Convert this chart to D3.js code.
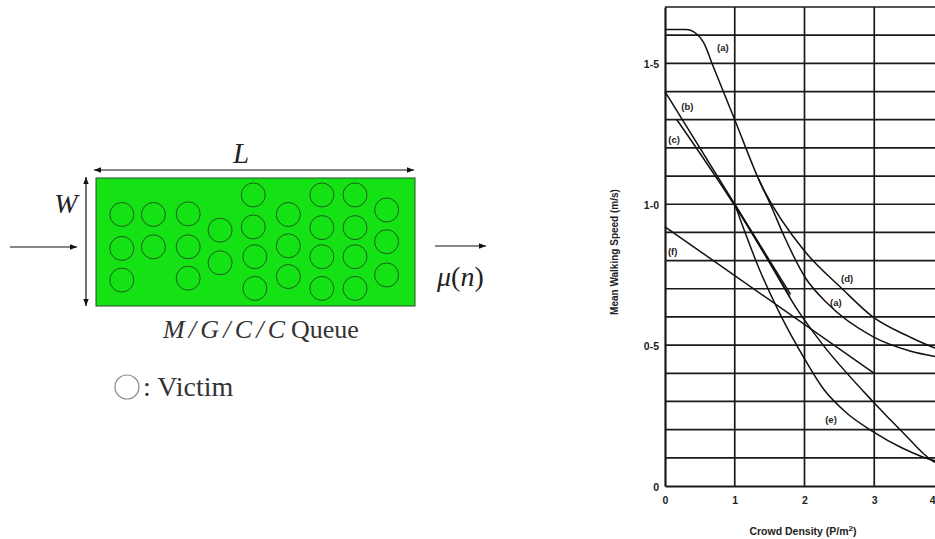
<!DOCTYPE html>
<html><head><meta charset="utf-8">
<script src="https://cdn.jsdelivr.net/npm/d3@7"></script>
<style>body{margin:0;background:#fff}svg{display:block}</style>
</head><body>
<svg id="c" width="935" height="539"></svg>
<script>
// ---------------- data ----------------
const densityTicks = [0, 1, 2, 3, 4];
const densityTickLabels = ["0", "1", "2", "3", "4"];
const speedTicks = [0, 0.5, 1.0, 1.5];
const speedTickLabels = ["0", "0-5", "1-0", "1-5"];
const speedGrid = [0.1,0.2,0.3,0.4,0.5,0.6,0.7,0.8,0.9,1.0,1.1,1.2,1.3,1.4,1.5,1.6,1.7];

const curveA = [[0,1.62],[0.3,1.62],[0.45,1.605],[0.55,1.575],[0.69,1.49],[1.0,1.30],[1.34,1.09],[1.51,1.0],[1.72,0.88],[2.01,0.74],[2.32,0.65],[2.98,0.53],[3.5,0.48],[3.87,0.46],[4.0,0.455]];
const curveD = [[1.34,1.09],[1.43,1.045],[1.98,0.84],[2.54,0.70],[2.98,0.60],[3.5,0.53],[3.87,0.49],[4.0,0.48]];
const curveB = [[0,1.4],[1.8,0.68]];
const curveC = [[0.17,1.3],[1.0,0.995],[1.79,0.672]];
const curveE = [[1.0,1.0],[1.36,0.765],[1.65,0.61],[1.98,0.46],[2.27,0.345],[2.6,0.26],[2.97,0.195],[3.4,0.135],[3.87,0.09],[4.0,0.085]];
const curveG = [[1.0,1.0],[1.46,0.81],[1.9,0.625],[2.22,0.515],[2.98,0.30],[3.41,0.19],[3.83,0.09],[4.0,0.07]];
const curveF = [[0,0.92],[3.0,0.40]];

const curveLabels = ["(a)","(b)","(c)","(f)","(d)","(a)","(e)"];
const curveLabelDensity = [0.83,0.32,0.13,0.11,2.61,2.45,2.38];
const curveLabelSpeed = [1.555,1.348,1.228,0.83,0.735,0.65,0.234];

// queue diagram: victims inside an L x W room (room units 0..10 x 0..4)
const victimsX = [0.81,0.81,0.81, 1.80,1.80, 2.89,2.89,2.89, 3.89,3.89, 4.93,4.93,4.98,4.98, 6.03,6.03,6.03, 7.08,7.08,7.08,7.08, 8.12,8.12,8.12,8.12, 9.11,9.11,9.11];
const victimsY = [1.14,2.20,3.19, 1.14,2.15, 1.12,2.15,3.13, 1.63,2.65, 0.53,1.53,2.46,3.45, 1.14,2.12,3.08, 0.53,1.55,2.46,3.45, 0.53,1.55,2.46,3.45, 1.00,1.99,3.03];

// ---------------- drawing ----------------
const svg = d3.select("#c");
const defs = svg.append("defs");
defs.append("marker").attr("id","ah").attr("viewBox","0 0 10 10")
  .attr("refX",10).attr("refY",5).attr("markerWidth",9).attr("markerHeight",7)
  .attr("markerUnits","userSpaceOnUse").attr("orient","auto-start-reverse")
  .append("path").attr("d","M0,1.2 L10,5 L0,8.8 Z").attr("fill","#111");

// ----- left diagram -----
const room = {x0:96, x1:415, y0:178, y1:306};
const rx = d3.scaleLinear().domain([0,10]).range([room.x0, room.x1]);
const ry = d3.scaleLinear().domain([0,4]).range([room.y0, room.y1]);
const serif = "'Liberation Serif','DejaVu Serif',serif";

svg.append("rect").attr("x",room.x0).attr("y",room.y0)
  .attr("width",room.x1-room.x0).attr("height",room.y1-room.y0)
  .attr("fill","#14e214").attr("stroke","#2b4a2b").attr("stroke-width",1);

svg.append("g").selectAll("circle").data(victimsX).join("circle")
  .attr("cx",(d)=>rx(d)).attr("cy",(d,i)=>ry(victimsY[i])).attr("r",12)
  .attr("fill","none").attr("stroke","#1f5a1f").attr("stroke-width",1);

// L arrow
svg.append("line").attr("x1",room.x0-2).attr("x2",room.x1-1).attr("y1",170).attr("y2",170)
  .attr("stroke","#111").attr("stroke-width",1.2)
  .attr("marker-start","url(#ah)").attr("marker-end","url(#ah)");
// W arrow
svg.append("line").attr("x1",86).attr("x2",86).attr("y1",room.y0-1).attr("y2",room.y1)
  .attr("stroke","#111").attr("stroke-width",1.2)
  .attr("marker-start","url(#ah)").attr("marker-end","url(#ah)");
// in / out arrows
svg.append("line").attr("x1",10).attr("x2",77).attr("y1",247).attr("y2",247)
  .attr("stroke","#111").attr("stroke-width",1.2).attr("marker-end","url(#ah)");
svg.append("line").attr("x1",435).attr("x2",486).attr("y1",246).attr("y2",246)
  .attr("stroke","#111").attr("stroke-width",1.2).attr("marker-end","url(#ah)");

svg.append("text").attr("x",241).attr("y",163).attr("text-anchor","middle")
  .attr("font-family",serif).attr("font-style","italic").attr("font-size",29).attr("fill","#222").text("L");
svg.append("text").attr("x",66).attr("y",213).attr("text-anchor","middle")
  .attr("font-family",serif).attr("font-style","italic").attr("font-size",28).attr("fill","#222").text("W");

const mu = svg.append("text").attr("x",437).attr("y",286)
  .attr("font-family",serif).attr("font-size",28).attr("fill","#222");
mu.append("tspan").attr("font-style","italic").text("μ");
mu.append("tspan").text("(");
mu.append("tspan").attr("font-style","italic").text("n");
mu.append("tspan").text(")");

const q = svg.append("text").attr("x",163).attr("y",338)
  .attr("font-family",serif).attr("font-size",26).attr("fill","#333");
q.append("tspan").attr("font-style","italic").attr("textLength",122).attr("lengthAdjust","spacing").text("M/G/C/C");
q.append("tspan").attr("x",291).text("Queue");

svg.append("circle").attr("cx",127).attr("cy",387).attr("r",12)
  .attr("fill","#fff").attr("stroke","#8a8a8a").attr("stroke-width",1.2);
svg.append("text").attr("x",143).attr("y",396)
  .attr("font-family",serif).attr("font-size",28).attr("fill","#333").text(": Victim");

// ----- right chart -----
const x = d3.scaleLinear().domain([0,4]).range([665, 944]);
const y = d3.scaleLinear().domain([0,1.7]).range([486, 7]);
const sans = "'Liberation Sans',Arial,sans-serif";
const ink = "#1a1a1a";

const grid = svg.append("g");
grid.selectAll("line.h").data(speedGrid).join("line").attr("class","h")
  .attr("x1",x(0)).attr("x2",x(4)).attr("y1",d=>y(d)).attr("y2",d=>y(d))
  .attr("stroke",ink).attr("stroke-width",1.7);
grid.selectAll("line.v").data(densityTicks.slice(1)).join("line").attr("class","v")
  .attr("x1",d=>x(d)).attr("x2",d=>x(d)).attr("y1",y(1.7)).attr("y2",y(0))
  .attr("stroke",ink).attr("stroke-width",1.7);

// axes
const xAxis = svg.append("g").attr("transform",`translate(0,${y(0)})`)
  .call(d3.axisBottom(x).tickValues(densityTicks).tickFormat((d,i)=>densityTickLabels[i]).tickSize(0).tickPadding(11));
const yAxis = svg.append("g").attr("transform",`translate(${x(0)},0)`)
  .call(d3.axisLeft(y).tickValues(speedTicks).tickFormat((d,i)=>speedTickLabels[i]).tickSize(0).tickPadding(6));
[xAxis,yAxis].forEach(g=>{
  g.select(".domain").attr("stroke",ink).attr("stroke-width",2.2);
  g.selectAll("text").attr("font-family",sans).attr("font-weight","bold")
    .attr("font-size",10.5).attr("fill","#222");
});
yAxis.selectAll(".tick text").attr("dy","0.4em");
// last density label sits at the picture's right edge: keep it inside
xAxis.selectAll(".tick text").filter(d=>d===4).attr("text-anchor","end").attr("dx",-9);

// curves
const line = d3.line().x(d=>x(d[0])).y(d=>y(d[1])).curve(d3.curveMonotoneX);
const curves = [curveA, curveD, curveB, curveC, curveE, curveG, curveF];
svg.append("g").selectAll("path").data(curves).join("path")
  .attr("d", line).attr("fill","none").attr("stroke","#111").attr("stroke-width",1.5);

// curve labels
svg.append("g").selectAll("text").data(curveLabels).join("text")
  .attr("x",(d,i)=>x(curveLabelDensity[i])).attr("y",(d,i)=>y(curveLabelSpeed[i]))
  .attr("dy","0.35em").attr("text-anchor","middle")
  .attr("font-family",sans).attr("font-weight","bold").attr("font-size",9.5).attr("fill","#222")
  .text(d=>d);

// axis titles
const xt = svg.append("text").attr("x",803).attr("y",535).attr("text-anchor","middle")
  .attr("font-family",sans).attr("font-weight","bold").attr("font-size",10.5).attr("fill","#222");
xt.append("tspan").text("Crowd Density (P/m");
xt.append("tspan").attr("dy",-4).attr("font-size",8).text("2");
xt.append("tspan").attr("dy",4).text(")");

svg.append("text").attr("transform","translate(618,252) rotate(-90)").attr("text-anchor","middle")
  .attr("font-family",sans).attr("font-weight","bold").attr("font-size",10).attr("fill","#222")
  .text("Mean Walking Speed (m/s)");
</script>
</body></html>
